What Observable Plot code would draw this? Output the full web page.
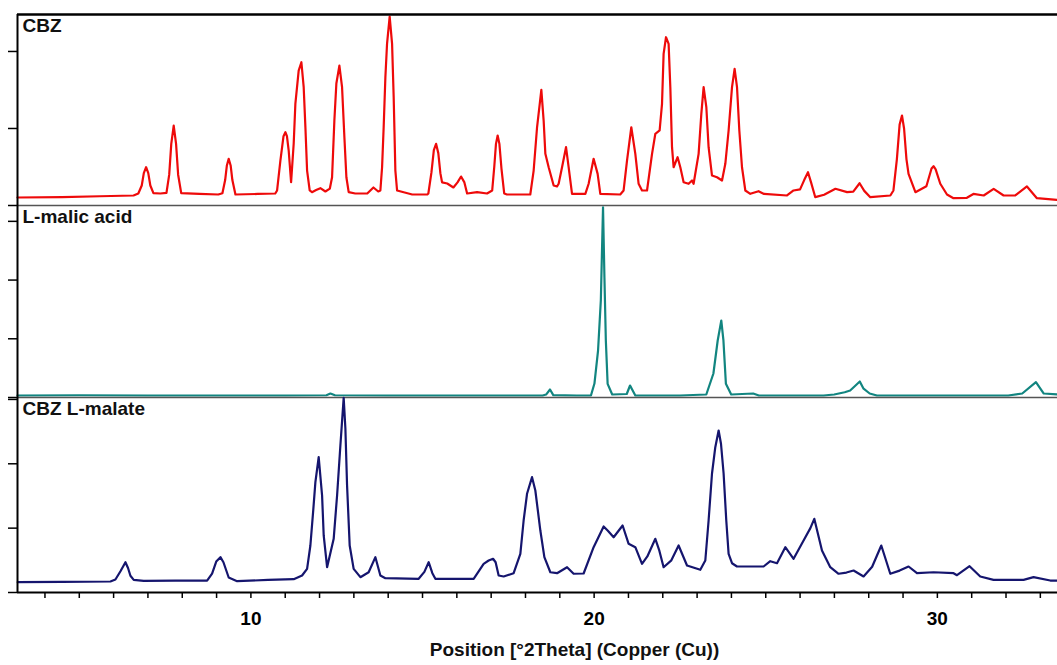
<!DOCTYPE html>
<html><head><meta charset="utf-8">
<script src="https://cdn.jsdelivr.net/npm/d3@7"></script>
<script src="https://cdn.jsdelivr.net/npm/@observablehq/plot@0.6"></script>
<style>
body{margin:0;background:#fff;font-family:"Liberation Sans",Arial,sans-serif;}
#chart svg{display:block;overflow:visible}
</style></head><body><div id="chart"></div>
<script>
// x axis (°2θ)
const xDomain = [3.2, 33.5];
const xTicks = d3.range(4, 34);
const xTickLabels = [10, 20, 30];
const xLabel = "Position [°2Theta] (Copper (Cu))";

// panels
const panelNames = ["CBZ", "L-malic acid", "CBZ L-malate"];
const panelColors = ["#ee0a0a", "#128580", "#15156e"];
const panelMax = [2480, 3270, 3030];
const panelTicks = [[0, 1000, 2000], [0, 1000, 2000, 3000], [0, 1000, 2000, 3000]];

// CBZ pattern [2theta, intensity]
const cbz = [[3.2,104],[4.5,110],[5.6,120],[6.58,130],
[6.72,156],[6.82,260],[6.88,420],[6.947,497],[7.01,420],[7.07,260],[7.16,160],[7.36,156],
[7.54,165],[7.62,400],[7.68,800],[7.751,1038],[7.82,800],[7.88,400],[7.97,160],
[8.5,150],[9.05,143],
[9.17,160],[9.25,330],[9.3,520],[9.353,606],[9.41,520],[9.46,330],[9.55,143],
[10.2,150],[10.71,156],
[10.763,195],[10.859,584],[10.95,900],[11.005,951],[11.05,900],[11.101,714],[11.171,302],[11.247,805],[11.296,1324],[11.392,1752],[11.471,1860],[11.538,1536],[11.588,1016],[11.637,454],[11.713,195],[11.78,173],
[11.9,200],[12.024,225],[12.17,182],
[12.3,220],[12.365,367],[12.432,1103],[12.49,1584],[12.578,1817],[12.656,1536],[12.724,887],[12.782,367],[12.849,173],
[13.04,156],[13.39,156],[13.57,234],[13.71,182],
[13.772,195],[13.822,497],[13.868,1016],[13.918,1665],[13.967,2103],[14.043,2453],[14.113,2103],[14.16,1406],[14.209,454],[14.259,195],
[14.7,143],[15.14,143],
[15.17,156],[15.26,430],[15.33,720],[15.395,801],[15.46,680],[15.52,420],[15.57,300],[15.72,286],[15.9,234],
[16.02,300],[16.123,376],[16.22,300],[16.3,156],[16.59,173],[16.88,156],
[17.03,195],[17.09,500],[17.14,800],[17.189,909],[17.24,800],[17.3,480],[17.38,156],
[17.46,143],[18.14,143],
[18.238,454],[18.337,1016],[18.462,1502],[18.529,1103],[18.579,671],[18.675,497],[18.821,260],[18.919,247],[18.966,282],
[19.065,497],[19.181,757],[19.257,497],[19.356,152],[19.744,152],
[19.84,282],[19.985,606],[20.102,411],[20.18,152],[20.76,143],
[20.859,195],[20.958,584],[21.083,1016],[21.2,671],[21.296,282],[21.395,195],[21.541,195],
[21.687,671],[21.783,931],[21.908,974],[21.978,1320],[22.024,1969],[22.094,2185],[22.17,2099],[22.22,1536],[22.269,757],[22.316,497],
[22.432,627],[22.511,497],[22.607,302],[22.753,282],[22.852,325],[22.898,282],
[23.044,671],[23.123,1190],[23.19,1536],[23.269,1276],[23.335,757],[23.434,389],[23.58,367],[23.726,325],[23.822,541],
[23.918,974],[24.017,1536],[24.093,1774],[24.163,1536],[24.23,974],[24.308,497],[24.405,195],[24.55,152],
[24.79,186],[24.95,150],[25.62,130],
[25.81,195],[26.0,210],[26.12,330],[26.231,432],[26.32,300],[26.443,108],
[26.7,140],[27.03,217],[27.37,173],
[27.55,180],[27.734,289],[27.87,190],[28.046,108],[28.63,130],
[28.72,195],[28.82,600],[28.9,1050],[28.969,1168],[29.03,1000],[29.1,600],[29.16,411],[29.36,173],
[29.68,250],[29.83,480],[29.889,510],[29.95,470],[30.085,282],[30.28,143],[30.47,95],
[30.86,100],[31.05,150],[31.35,130],[31.64,217],[31.93,130],[32.27,130],
[32.61,247],[32.9,95],[33.48,74]];

// L-malic acid pattern
const malic = [[3.2,34],[5.0,38],[7.0,34],[9.0,34],[11.0,34],[12.2,38],[12.316,68],[12.45,38],[14.0,34],[16.0,34],
[18.5,34],[18.6,50],[18.715,136],[18.81,40],[19.5,34],[19.907,34],
[20.009,238],[20.114,800],[20.195,1652],[20.259,3240],[20.3,2049],[20.341,971],[20.393,233],[20.527,51],
[20.95,60],[21.046,204],[21.2,34],[22.5,34],
[23.268,51],[23.475,409],[23.6,971],[23.705,1311],[23.767,971],[23.839,233],[23.994,51],
[24.634,68],[24.8,34],[26.685,34],[26.994,51],[27.3,90],[27.46,119],[27.74,272],[27.85,150],[28.028,68],[28.238,34],
[30,34],[32.065,34],[32.473,68],[32.872,261],[33.1,68],[33.5,51]];

// CBZ L-malate pattern
const cocrystal = [[3.207,160],[4.5,165],[5.907,171],[6.053,202],[6.2,330],[6.345,471],[6.42,380],[6.49,260],[6.586,197],[6.877,182],
[7.8,186],[8.724,186],[8.869,295],[8.99,480],[9.112,549],[9.2,470],[9.353,233],[9.598,176],[10.5,195],[11.247,207],
[11.491,264],[11.637,368],[11.733,730],[11.812,1248],[11.879,1714],[11.975,2103],[12.074,1507],[12.121,886],[12.22,393],
[12.412,834],[12.511,1507],[12.607,2284],[12.703,3025],[12.753,2549],[12.802,1663],[12.878,730],[12.994,368],[13.19,238],
[13.431,315],[13.627,549],[13.772,264],[13.918,222],[14.888,213],
[15.054,320],[15.179,471],[15.287,300],[15.374,213],[15.52,213],[16.49,213],
[16.781,446],[16.927,497],[17.055,524],[17.13,470],[17.218,264],[17.364,249],[17.655,300],
[17.85,600],[17.946,1119],[18.045,1534],[18.191,1792],[18.287,1585],[18.433,963],[18.55,549],[18.724,315],[18.919,300],
[19.211,393],[19.403,291],[19.694,295],[19.985,704],[20.277,1026],[20.4,960],[20.568,859],[20.83,1041],
[21.005,757],[21.2,704],[21.395,446],[21.55,560],[21.783,834],[21.9,650],[22.024,393],[22.25,500],[22.461,730],[22.706,420],
[23.093,353],[23.239,497],[23.335,1119],[23.434,1849],[23.53,2258],[23.627,2517],[23.696,2311],[23.772,1849],[23.85,1119],[23.918,601],[24.017,455],[24.162,404],[24.937,404],
[25.132,486],[25.328,455],[25.57,704],[25.811,524],[26.102,808],[26.3,1000],[26.414,1145],[26.638,653],[26.88,393],
[27.122,291],[27.35,310],[27.559,342],[27.85,249],[28.1,400],[28.366,730],[28.628,291],[28.9,340],[29.161,404],[29.406,300],
[29.889,315],[30.472,300],[30.571,269],[30.938,409],[31.25,249],[31.637,197],[32.511,197],[32.802,238],[33.289,186],[33.493,186]];

const series = [cbz, malic, cocrystal];
const heights = [205, 192, 268];
const font = '"Liberation Sans", Arial, sans-serif';

const chart = document.getElementById("chart");
series.forEach((data, i) => {
  const isTop = i === 0, isBottom = i === series.length - 1;
  const marks = [
    Plot.axisY({ticks: panelTicks[i], tickSize: 9, tickFormat: () => "", label: null, strokeWidth: 1.5}),
    Plot.line(data, {stroke: panelColors[i], strokeWidth: 2.2}),
    Plot.ruleY([0], {stroke: isBottom ? "#000" : "#555", strokeWidth: isBottom ? 2 : 1.5}),
    Plot.ruleX([xDomain[0]], {stroke: "#000", strokeWidth: 2}),
    Plot.text([panelNames[i]], {frameAnchor: "top-left", dx: 5, dy: 4, fontSize: 19, fontWeight: "bold", fill: "#111"})
  ];
  if (isTop) marks.push(Plot.ruleY([panelMax[i]], {stroke: "#000", strokeWidth: 2.5}));
  if (isBottom) {
    marks.push(Plot.axisX({ticks: xTicks, tickSize: 6, tickPadding: 13, strokeWidth: 1.5,
      tickFormat: d => xTickLabels.includes(d) ? d : "", fontSize: 19, fontWeight: "bold", label: null}));
    marks.push(Plot.text([xLabel], {frameAnchor: "bottom", lineAnchor: "top", dx: 37, dy: 50,
      fontSize: 19, fontWeight: "bold", fill: "#111"}));
  }
  const svg = Plot.plot({
    width: 1057, height: heights[i],
    marginTop: isTop ? 14 : 0, marginBottom: isBottom ? 73 : 0,
    marginLeft: 17, marginRight: 0,
    x: {domain: xDomain, axis: null},
    y: {domain: [0, panelMax[i]], axis: null},
    style: {fontFamily: font, fontSize: "19px", background: "transparent", overflow: "visible", color: "#000"},
    marks
  });
  chart.appendChild(svg);
});
</script></body></html>
